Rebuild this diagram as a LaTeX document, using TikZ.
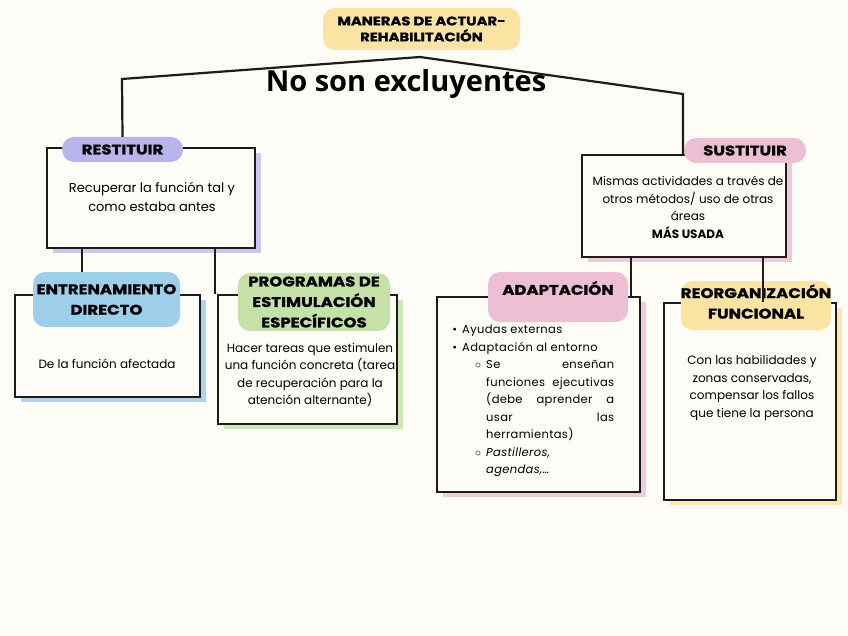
\documentclass[tikz,border=0pt]{standalone}
\usepackage{fontspec}
\setmainfont{Poppins}
\newfontfamily\headfont{Open Sans}
\newfontfamily\tagfont{Poppins}[FakeStretch=1.18, BoldFeatures={FakeBold=1.2}]
\newfontfamily\listfont{Poppins}[LetterSpace=3]
\usepackage{enumitem}
\usepackage{tikz}
\usetikzlibrary{shadows, calc}
\definecolor{paper}{RGB}{253,252,247}
\definecolor{ink}{RGB}{28,28,28}
\definecolor{butter}{RGB}{251,228,163}
\definecolor{lilac}{RGB}{186,180,236}
\definecolor{rosy}{RGB}{237,191,211}
\definecolor{skyblue}{RGB}{157,206,234}
\definecolor{leaf}{RGB}{198,225,168}

\tikzset{
  card/.style={draw=ink, line width=2.4pt, fill=paper, inner sep=0pt, general shadow={fill=#1, shadow xshift=6pt, shadow yshift=-5pt}},
  pill/.style={fill=#1, rounded corners=12pt, inner sep=0pt, align=center, font=\tagfont\bfseries\fontsize{14}{20.5}\selectfont},
  body/.style={align=center, font=\fontsize{12}{17.5}\selectfont},
  conn/.style={draw=ink, line width=2.2pt}
}

\begin{document}
\begin{tikzpicture}[x=1pt, y=-1pt]
  \fill[paper] (0,0) rectangle (848,636);
  \useasboundingbox (0,0) rectangle (848,636);

  % cards
  \node[card=lilac!75, minimum width=208pt, minimum height=100pt] (restituir) at (151,198) {};
  \node[card=rosy!85, minimum width=204pt, minimum height=102pt] (sustituir) at (684,206) {};
  \node[card=skyblue!85, minimum width=185pt, minimum height=102pt] (entrenamiento) at (107.5,346) {};
  \node[card=leaf!85, minimum width=179pt, minimum height=129pt] (programas) at (307.5,359.5) {};
  \node[card=rosy!85, minimum width=203pt, minimum height=195pt] (adaptacion) at (538.5,394.5) {};
  \node[card=butter!85, minimum width=172pt, minimum height=197pt] (reorganizacion) at (750,401.5) {};

  % tags
  \node[pill=butter, minimum width=197pt, minimum height=42pt, font=\tagfont\bfseries\fontsize{12.5}{16}\selectfont] (titulo) at (421.5,29) {MANERAS DE ACTUAR-\\REHABILITACIÓN};
  \node[pill=lilac, minimum width=121pt, minimum height=25pt] (restituirtag) at (122.5,149.5) {RESTITUIR};
  \node[pill=rosy, minimum width=122pt, minimum height=25pt] (sustituirtag) at (745,150.5) {SUSTITUIR};
  \node[pill=skyblue, minimum width=147pt, minimum height=55pt] (entrenamientotag) at (106.5,299.5) {ENTRENAMIENTO\\DIRECTO};
  \node[pill=leaf, minimum width=152pt, minimum height=58pt] (programastag) at (314,302) {PROGRAMAS DE\\ESTIMULACIÓN\\ESPECÍFICOS};
  \node[pill=rosy, minimum width=140pt, minimum height=50pt, text depth=18pt] (adaptaciontag) at (558,297) {ADAPTACIÓN};
  \node[pill=butter, minimum width=144pt, minimum height=49pt, text depth=8pt] (reorganizaciontag) at (756,305.5) {REORGANIZACIÓN\\FUNCIONAL};

  % connectors
  \coordinate (peak) at (420,57);
  \coordinate (lbend) at (122,79);
  \coordinate (rbend) at (683,94);
  \draw[conn] (restituirtag.north) -- (lbend) -- (peak) -- (rbend) -- (rbend |- sustituir.north);
  \draw[conn] ([xshift=-69pt]restituir.south) -- ([xshift=-69pt]restituir.south |- entrenamientotag.north);
  \draw[conn] ([xshift=64pt]restituir.south) -- ([xshift=64pt]restituir.south |- programas.north);
  \draw[conn] ([xshift=-53pt]sustituir.south) -- ([xshift=-53pt]sustituir.south |- adaptacion.north);
  \draw[conn] ([xshift=79pt]sustituir.south) -- ([xshift=79pt]sustituir.south |- reorganizacion.north);

  \node[font=\headfont\bfseries\fontsize{29}{32}\selectfont] (nota) at (406,84) {No son excluyentes};

  % texts
  \node[body, font=\fontsize{13}{18.5}\selectfont] (restituirtxt) at (152,197) {Recuperar la función tal y\\como estaba antes};
  \node[body] (sustituirtxt) at (688,207.5) {Mismas actividades a través de\\otros métodos/ uso de otras\\áreas\\\textbf{MÁS USADA}};
  \node[body] (entrenamientotxt) at (107,364) {De la función afectada};
  \node[body] (programastxt) at (310,375) {Hacer tareas que estimulen\\una función concreta (tarea\\de recuperación para la\\atención alternante)};
  \node[body] (reorganizaciontxt) at (752,388) {Con las habilidades y\\zonas conservadas,\\compensar los fallos\\que tiene la persona};
  \node[anchor=north west, text width=167pt, align=justify, inner sep=0pt, font=\listfont\fontsize{11.5}{17.5}\selectfont] (adaptaciontxt) at (447,316) {\hyphenpenalty=10000 \tolerance=9999
    \begin{itemize}[nosep, leftmargin=15pt, label=\textbullet]
      \item Ayudas externas
      \item Adaptación al entorno
      \begin{itemize}[nosep, leftmargin=24pt, label=$\circ$]
        \item Se enseñan\linebreak funciones ejecutivas\linebreak (debe aprender a\linebreak usar las\linebreak herramientas)
        \item \textit{Pastilleros,\linebreak agendas,\dots}
      \end{itemize}
    \end{itemize}};
\end{tikzpicture}
\end{document}
